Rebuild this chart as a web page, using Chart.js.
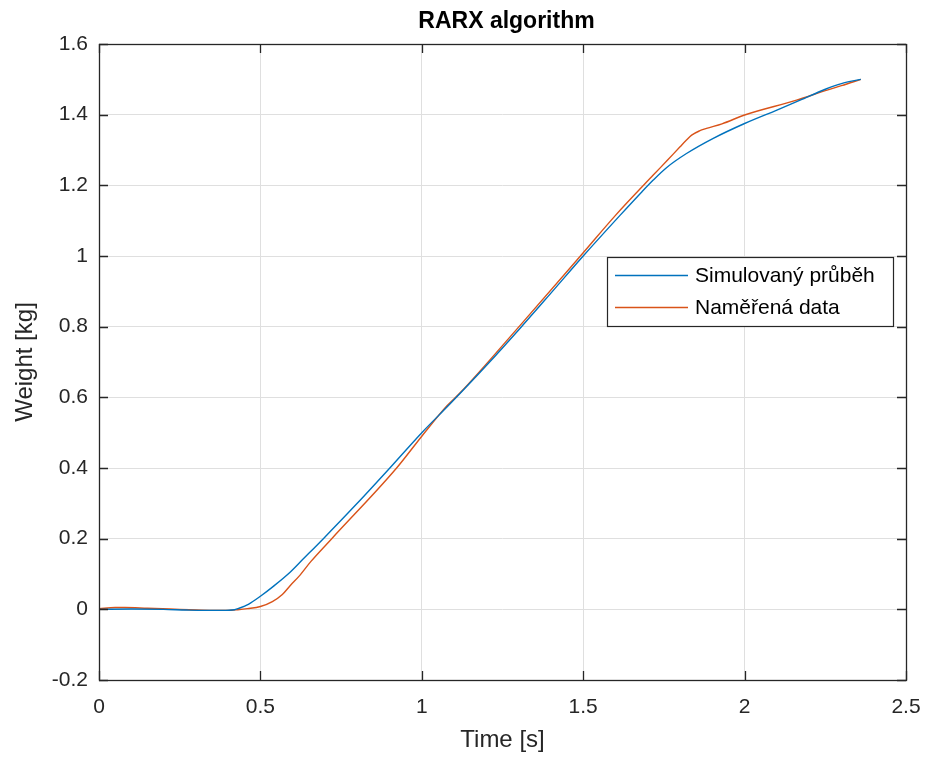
<!DOCTYPE html>
<html>
<head>
<meta charset="utf-8">
<script src="https://cdn.jsdelivr.net/npm/chart.js@4"></script>
<style>
html, body { margin: 0; padding: 0; background: #fff; }
#wrap { width: 925px; height: 758px; }
</style>
</head>
<body>
<div id="wrap"><canvas id="rarxChart" width="925" height="758"></canvas></div>
<script>
// simulated response (blue)
var timeSim = [0, 0.1, 0.2, 0.27, 0.33, 0.38, 0.42, 0.434, 0.464, 0.5, 0.54, 0.592, 0.63, 0.695, 0.8, 0.901, 1.0, 1.087, 1.2, 1.304, 1.4, 1.5, 1.614, 1.68, 1.717, 1.758, 1.82, 1.903, 2.0, 2.1, 2.172, 2.25, 2.3, 2.36];
var weightSim = [0, 0.001, 0, -0.002, -0.003, -0.003, -0.001, 0.003, 0.015, 0.037, 0.065, 0.105, 0.14, 0.2, 0.3, 0.4, 0.5, 0.581, 0.69, 0.795, 0.895, 1.0, 1.115, 1.18, 1.215, 1.25, 1.29, 1.333, 1.375, 1.413, 1.441, 1.472, 1.488, 1.5];

// measured data (red)
var timeMeas = [0, 0.05, 0.08, 0.15, 0.22, 0.28, 0.35, 0.4, 0.43, 0.46, 0.5, 0.537, 0.568, 0.592, 0.62, 0.656, 0.721, 0.922, 1.0, 1.078, 1.118, 1.304, 1.5, 1.6, 1.717, 1.76, 1.8, 1.82, 1.836, 1.86, 1.882, 1.93, 2.0, 2.161, 2.25, 2.3, 2.36];
var weightMeas = [0.002, 0.005, 0.005, 0.003, 0.001, -0.001, -0.003, -0.003, -0.001, 0.002, 0.008, 0.022, 0.042, 0.067, 0.094, 0.135, 0.2, 0.4, 0.49, 0.576, 0.612, 0.803, 1.009, 1.115, 1.229, 1.27, 1.309, 1.328, 1.342, 1.354, 1.361, 1.374, 1.399, 1.441, 1.468, 1.482, 1.5];

var xTickValues = [0, 0.5, 1, 1.5, 2, 2.5];
var yTickValues = [-0.2, 0, 0.2, 0.4, 0.6, 0.8, 1, 1.2, 1.4, 1.6];
var seriesLabels = ["Simulovaný průběh", "Naměřená data"];
var seriesColors = ["#0072BD", "#D95319"];
var chartTitle = "RARX algorithm";

var axisColor = "#262626";
var fontFamily = "'Liberation Sans', Arial, Helvetica, sans-serif";

function toPoints(xs, ys) {
    return xs.map(function (x, i) { return { x: x, y: ys[i] }; });
}

// box round the plot, ticks pointing inwards, title and legend
var matlabAxes = {
    id: "matlabAxes",
    afterDatasetsDraw: function (chart) {
        var ctx = chart.ctx;
        var area = chart.chartArea;
        var xs = chart.scales.x;
        var ys = chart.scales.y;
        var tl = 9;
        ctx.save();
        ctx.strokeStyle = axisColor;
        ctx.lineWidth = 1.3;
        ctx.beginPath();
        xTickValues.forEach(function (v) {
            var px = Math.round(xs.getPixelForValue(v)) + 0.5;
            ctx.moveTo(px, area.bottom);
            ctx.lineTo(px, area.bottom - tl);
            ctx.moveTo(px, area.top);
            ctx.lineTo(px, area.top + tl);
        });
        yTickValues.forEach(function (v) {
            var py = Math.round(ys.getPixelForValue(v)) + 0.5;
            ctx.moveTo(area.left, py);
            ctx.lineTo(area.left + tl, py);
            ctx.moveTo(area.right, py);
            ctx.lineTo(area.right - tl, py);
        });
        ctx.stroke();
        ctx.strokeRect(area.left + 0.5, area.top + 0.5, area.right - area.left, area.bottom - area.top);

        // title
        ctx.fillStyle = "#000";
        ctx.font = "bold 23px " + fontFamily;
        ctx.textAlign = "center";
        ctx.textBaseline = "alphabetic";
        ctx.fillText(chartTitle, (area.left + area.right) / 2 + 4, 28);

        // legend
        var lx = area.right - 299, ly = area.top + 213, lw = 286, lh = 69;
        ctx.fillStyle = "#fff";
        ctx.fillRect(lx, ly, lw, lh);
        ctx.lineWidth = 1.2;
        ctx.strokeStyle = axisColor;
        ctx.strokeRect(lx + 0.5, ly + 0.5, lw, lh);
        ctx.font = "21px " + fontFamily;
        ctx.textAlign = "left";
        ctx.textBaseline = "middle";
        seriesLabels.forEach(function (label, i) {
            var y = ly + 18 + i * 32;
            ctx.strokeStyle = seriesColors[i];
            ctx.lineWidth = 1.4;
            ctx.beginPath();
            ctx.moveTo(lx + 8, y + 0.5);
            ctx.lineTo(lx + 81, y + 0.5);
            ctx.stroke();
            ctx.fillStyle = "#000";
            ctx.fillText(label, lx + 88, y + 1);
        });
        ctx.restore();
    }
};

var ctx = document.getElementById("rarxChart").getContext("2d");
var chartInstance = new Chart(ctx, {
    type: "line",
    data: {
        datasets: [
            {
                label: seriesLabels[0],
                data: toPoints(timeSim, weightSim),
                borderColor: seriesColors[0],
                borderWidth: 1.4,
                pointRadius: 0,
                cubicInterpolationMode: "monotone",
                fill: false
            },
            {
                label: seriesLabels[1],
                data: toPoints(timeMeas, weightMeas),
                borderColor: seriesColors[1],
                borderWidth: 1.4,
                pointRadius: 0,
                cubicInterpolationMode: "monotone",
                fill: false
            }
        ]
    },
    options: {
        responsive: false,
        devicePixelRatio: 1,
        animation: false,
        layout: { padding: { top: 44, right: 19, left: 0, bottom: 0 } },
        plugins: {
            legend: { display: false },
            title: { display: false },
            tooltip: { enabled: false }
        },
        scales: {
            x: {
                type: "linear",
                min: 0,
                max: 2.5,
                afterFit: function (s) { s.height = 78; },
                afterBuildTicks: function (s) {
                    s.ticks = xTickValues.map(function (v) { return { value: v }; });
                },
                ticks: {
                    color: axisColor,
                    font: { family: fontFamily, size: 21 },
                    padding: 3,
                    maxRotation: 0,
                    callback: function (v) { return String(v); }
                },
                grid: { color: "#dfdfdf", drawTicks: true, tickLength: 12, tickColor: "rgba(0,0,0,0)" },
                border: { display: false },
                title: {
                    display: true,
                    text: "Time [s]",
                    color: axisColor,
                    font: { family: fontFamily, size: 24 },
                    padding: { top: 0, bottom: 3 }
                }
            },
            y: {
                type: "linear",
                min: -0.2,
                max: 1.6,
                afterFit: function (s) { s.width = 99; },
                afterBuildTicks: function (s) {
                    s.ticks = yTickValues.map(function (v) { return { value: v }; });
                },
                ticks: {
                    color: axisColor,
                    font: { family: fontFamily, size: 21 },
                    padding: 11,
                    callback: function (v) { return String(v); }
                },
                grid: { color: "#dfdfdf", drawTicks: false },
                border: { display: false },
                title: {
                    display: true,
                    text: "Weight [kg]",
                    color: axisColor,
                    font: { family: fontFamily, size: 24 },
                    padding: { top: 11, bottom: 0 }
                }
            }
        }
    },
    plugins: [matlabAxes]
});
</script>
</body>
</html>
